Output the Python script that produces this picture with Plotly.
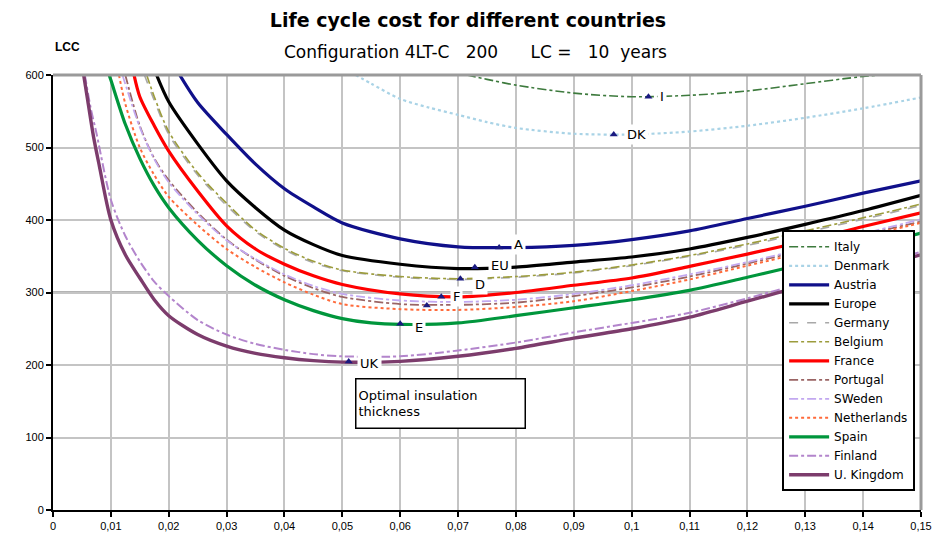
import plotly.graph_objects as go

# ---------------- data ----------------
italy_x = [0.0715, 0.075, 0.08, 0.09, 0.10, 0.11, 0.12, 0.13, 0.14, 0.145]
italy_y = [600, 594, 586, 575, 570, 572, 578, 588, 598, 601]

denmark_x = [0.0523, 0.055, 0.06, 0.065, 0.07, 0.075, 0.08, 0.09, 0.10, 0.11, 0.12, 0.13, 0.14, 0.15]
denmark_y = [600, 588, 567, 555, 545, 535, 527, 519, 518, 522, 530, 541, 554, 569]

austria_x = [0.0219, 0.025, 0.03, 0.035, 0.04, 0.045, 0.05, 0.06, 0.07, 0.08, 0.09, 0.10, 0.11, 0.12, 0.13, 0.14, 0.15]
austria_y = [600, 562, 518, 477, 443, 418, 396, 374, 363, 362, 365, 373, 385, 402, 419, 437, 454]

europe_x = [0.0179, 0.02, 0.025, 0.03, 0.035, 0.04, 0.045, 0.05, 0.06, 0.07, 0.08, 0.09, 0.10, 0.11, 0.12, 0.13, 0.14, 0.15]
europe_y = [600, 563, 505, 454, 417, 386, 366, 351, 339, 333, 335, 342, 349, 360, 376, 394, 413, 434]

germany_x = [0.0158, 0.0175, 0.02, 0.025, 0.03, 0.035, 0.04, 0.045, 0.05, 0.06, 0.07, 0.08, 0.09, 0.10, 0.11, 0.12, 0.13, 0.14, 0.15]
germany_y = [600, 565, 518, 462, 420, 384, 359, 341, 330, 321, 318, 321, 327, 337, 350, 365, 383, 401, 420]

belgium_x = [0.0162, 0.0175, 0.02, 0.025, 0.03, 0.035, 0.04, 0.045, 0.05, 0.06, 0.07, 0.08, 0.09, 0.10, 0.11, 0.12, 0.13, 0.14, 0.15]
belgium_y = [600, 570, 522, 465, 423, 386, 361, 343, 331, 322, 319, 322, 328, 338, 351, 367, 385, 403, 422]

france_x = [0.014, 0.015, 0.0175, 0.02, 0.025, 0.03, 0.035, 0.04, 0.045, 0.05, 0.06, 0.07, 0.08, 0.09, 0.10, 0.11, 0.12, 0.13, 0.14, 0.15]
france_y = [600, 570, 530, 495, 440, 392, 360, 339, 323, 311, 298, 294, 300, 310, 320, 336, 353, 371, 391, 410]

portugal_x = [0.0125, 0.015, 0.0175, 0.02, 0.025, 0.03, 0.035, 0.04, 0.045, 0.05, 0.06, 0.07, 0.08, 0.09, 0.10, 0.11, 0.12, 0.13, 0.14, 0.15]
portugal_y = [600, 530, 485, 455, 410, 373, 345, 323, 306, 294, 284, 283, 286, 295, 307, 322, 340, 359, 379, 398]

sweden_x = [0.012, 0.015, 0.0175, 0.02, 0.025, 0.03, 0.035, 0.04, 0.045, 0.05, 0.06, 0.07, 0.08, 0.09, 0.10, 0.11, 0.12, 0.13, 0.14, 0.15]
sweden_y = [600, 528, 484, 452, 408, 372, 346, 325, 309, 298, 289, 287, 290, 298, 310, 325, 342, 361, 381, 401]

netherlands_x = [0.0114, 0.0125, 0.015, 0.0175, 0.02, 0.025, 0.03, 0.035, 0.04, 0.045, 0.05, 0.06, 0.07, 0.08, 0.09, 0.10, 0.11, 0.12, 0.13, 0.14, 0.15]
netherlands_y = [600, 560, 500, 462, 432, 393, 360, 335, 314, 297, 284, 277, 276, 280, 288, 302, 318, 337, 356, 377, 396]

spain_x = [0.0097, 0.01, 0.0125, 0.015, 0.0175, 0.02, 0.025, 0.03, 0.035, 0.04, 0.045, 0.05, 0.055, 0.06, 0.07, 0.08, 0.09, 0.10, 0.11, 0.12, 0.13, 0.14, 0.15]
spain_y = [600, 593, 532, 485, 447, 417, 372, 337, 310, 290, 275, 264, 258, 256, 258, 268, 279, 290, 303, 321, 340, 361, 382]

finland_x = [0.0055, 0.0065, 0.0075, 0.01, 0.0125, 0.015, 0.0175, 0.02, 0.025, 0.03, 0.035, 0.04, 0.045, 0.05, 0.06, 0.07, 0.08, 0.09, 0.10, 0.11, 0.12, 0.13, 0.14, 0.15]
finland_y = [600, 555, 520, 428, 378, 343, 315, 295, 262, 242, 229, 221, 215, 212, 212, 220, 231, 245, 258, 272, 292, 314, 335, 356]

uk_x = [0.0053, 0.006, 0.007, 0.008, 0.01, 0.0125, 0.015, 0.0175, 0.02, 0.025, 0.03, 0.035, 0.04, 0.045, 0.05, 0.06, 0.07, 0.08, 0.09, 0.10, 0.11, 0.12, 0.13, 0.14, 0.15]
uk_y = [600, 565, 515, 475, 400, 352, 320, 290, 268, 242, 226, 216, 210, 206, 204, 205, 212, 223, 237, 250, 266, 288, 310, 331, 352]

# optimum points and their labels
opt_x = [0.1029, 0.0969, 0.0771, 0.0729, 0.0704, 0.0671, 0.0646, 0.0600, 0.0511]
opt_y = [570, 518, 362, 335, 319, 294, 282, 257, 205]

label_text = ["I", "DK", "A", "EU", "D", "F", "E", "UK"]
label_x = [0.1052, 0.1008, 0.0805, 0.0772, 0.0738, 0.0697, 0.0632, 0.0547]
label_y = [570, 518, 366, 337, 311, 294, 252, 202]

x_ticks = [0, 0.01, 0.02, 0.03, 0.04, 0.05, 0.06, 0.07, 0.08, 0.09, 0.10, 0.11, 0.12, 0.13, 0.14, 0.15]
x_tick_text = ["0", "0,01", "0,02", "0,03", "0,04", "0,05", "0,06", "0,07", "0,08", "0,09",
               "0,1", "0,11", "0,12", "0,13", "0,14", "0,15"]
y_ticks = [0, 100, 200, 300, 400, 500, 600]

# ---------------- figure ----------------
series = [
    ("Italy", italy_x, italy_y, "#3d7a3d", 1.6, "dashdot"),
    ("Denmark", denmark_x, denmark_y, "#a9d3e6", 2.2, "dot"),
    ("Austria", austria_x, austria_y, "#10108a", 3.2, "solid"),
    ("Europe", europe_x, europe_y, "#000000", 3.2, "solid"),
    ("Germany", germany_x, germany_y, "#a8a8a8", 1.6, "dash"),
    ("Belgium", belgium_x, belgium_y, "#9c9c3c", 1.6, "dashdot"),
    ("France", france_x, france_y, "#ff0000", 3.2, "solid"),
    ("Portugal", portugal_x, portugal_y, "#9a6464", 1.8, "dashdot"),
    ("SWeden", sweden_x, sweden_y, "#c2a8f0", 1.8, "dashdot"),
    ("Netherlands", netherlands_x, netherlands_y, "#ff6a3a", 2.0, "dot"),
    ("Spain", spain_x, spain_y, "#00963c", 3.2, "solid"),
    ("Finland", finland_x, finland_y, "#b385cc", 2.0, "dashdot"),
    ("U. Kingdom", uk_x, uk_y, "#7c3c6c", 3.4, "solid"),
]

FONT = "Liberation Sans, Arial"
WIDE = "DejaVu Sans"
NB = "\u00a0"

fig = go.Figure()

# thicker grey reference line at 300 (drawn under the data)
fig.add_shape(type="line", xref="paper", yref="y", x0=0, x1=1, y0=300, y1=300,
              line=dict(color="#b4b4b4", width=3), layer="below")

for name, xs, ys, color, width, dash in series:
    fig.add_trace(go.Scatter(
        x=xs, y=ys, name=name, mode="lines",
        line=dict(color=color, width=width, dash=dash, shape="spline", smoothing=0.8),
    ))

fig.add_trace(go.Scatter(
    x=opt_x, y=opt_y, mode="markers", showlegend=False,
    marker=dict(symbol="triangle-up", size=7, color="#1a1a80"),
))

for t, lx, ly in zip(label_text, label_x, label_y):
    fig.add_annotation(x=lx, y=ly, text=t, showarrow=False, xref="x", yref="y",
                       font=dict(size=13, color="black", family=WIDE),
                       bgcolor="white", borderpad=2)

fig.add_annotation(x=0.0522, y=182, xref="x", yref="y", xanchor="left", yanchor="top",
                   text="Optimal insulation<br>thickness", showarrow=False, align="left",
                   width=164, height=44, bgcolor="white", bordercolor="black", borderwidth=1.5,
                   borderpad=2, font=dict(size=13, color="black", family=WIDE))

subtitle = ("Configuration 4LT-C" + NB * 3 + "200" + NB * 6 + "LC" + NB + "=" + NB * 3
            + "10" + NB * 2 + "years")
fig.add_annotation(x=(475 - 53) / 868, y=1 + 23 / 437, xref="paper", yref="paper",
                   xanchor="center", yanchor="middle",
                   text=subtitle, showarrow=False,
                   font=dict(size=17, color="black", family=WIDE))
fig.add_annotation(x=0.0, y=1 + 28 / 437, xref="paper", yref="paper", xanchor="left", yanchor="middle",
                   text="<b>LCC</b>", showarrow=False,
                   font=dict(size=12, color="black", family=FONT))

# grey top and right frame
fig.add_shape(type="line", xref="paper", yref="paper", x0=0, x1=1, y0=1, y1=1,
              line=dict(color="#9a9a9a", width=3))
fig.add_shape(type="line", xref="paper", yref="paper", x0=1, x1=1, y0=0, y1=1,
              line=dict(color="#9a9a9a", width=3))

fig.update_layout(
    width=949, height=544,
    margin=dict(l=53, r=28, t=75, b=32),
    paper_bgcolor="white", plot_bgcolor="white",
    font=dict(family=FONT, size=11, color="black"),
    title=dict(text="<b>Life cycle cost for different countries</b>", x=468 / 949, xanchor="center",
               y=1 - 20 / 544, yanchor="middle", font=dict(size=19, color="black", family=WIDE)),
    showlegend=True,
    legend=dict(x=0.84, y=0.643, xanchor="left", yanchor="top",
                bgcolor="white", bordercolor="black", borderwidth=2,
                font=dict(size=12, color="black", family=WIDE), itemwidth=40, tracegroupgap=0),
    xaxis=dict(range=[0, 0.15], tickvals=x_ticks, ticktext=x_tick_text,
               showgrid=True, gridcolor="#c4c4c4", gridwidth=1.5,
               showline=True, linecolor="black", linewidth=2,
               ticks="outside", ticklen=5, tickwidth=2, tickcolor="black",
               zeroline=False, tickfont=dict(size=11)),
    yaxis=dict(range=[0, 600], tickvals=y_ticks,
               showgrid=True, gridcolor="#c4c4c4", gridwidth=1.5,
               showline=True, linecolor="black", linewidth=2,
               ticks="outside", ticklen=5, tickwidth=2, tickcolor="black",
               zeroline=False, tickfont=dict(size=11)),
)

fig.write_html("out.html", config={"displayModeBar": False},
               post_script="document.body.style.margin='0';document.body.style.overflow='hidden';")
